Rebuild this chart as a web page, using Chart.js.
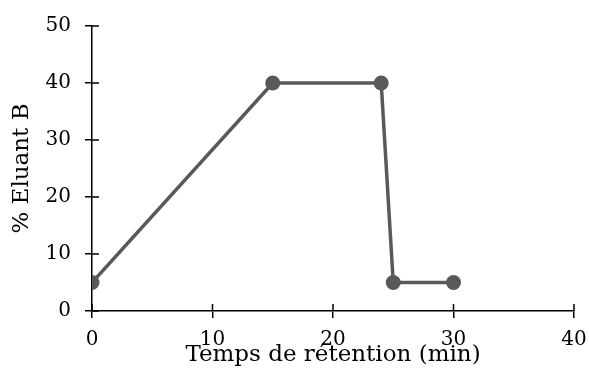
<!DOCTYPE html>
<html><head><meta charset="utf-8">
<script src="https://cdn.jsdelivr.net/npm/chart.js@4/dist/chart.umd.min.js"></script>
<style>html,body{margin:0;padding:0;background:#fff}#wrap{width:589px;height:376px}</style>
</head><body><div id="wrap"><canvas id="c" width="589" height="376"></canvas></div>
<script>
const times = [0, 15, 24, 25, 30];
const eluantB = [5, 40, 40, 5, 5];
const xTicks = [0, 10, 20, 30, 40];
const yTicks = [0, 10, 20, 30, 40, 50];
const xTitle = 'Temps de rétention (min)';
const yTitle = '% Eluant B';

const FONT = 'DejaVu Serif';
const crossTicks = {
  id: 'crossTicks',
  afterDraw(chart) {
    const ctx = chart.ctx, xs = chart.scales.x, ys = chart.scales.y;
    ctx.save(); ctx.strokeStyle = '#000'; ctx.lineWidth = 1.5;
    ctx.beginPath();
    xTicks.forEach(v => { const px = xs.getPixelForValue(v); ctx.moveTo(px, ys.bottom); ctx.lineTo(px, ys.bottom - 7); });
    yTicks.forEach(v => { const py = ys.getPixelForValue(v); ctx.moveTo(xs.left, py); ctx.lineTo(xs.left + 7, py); });
    ctx.stroke(); ctx.restore();
  }
};
new Chart(document.getElementById('c'), {
  type: 'line',
  data: { datasets: [{
    data: times.map((t, i) => ({ x: t, y: eluantB[i] })),
    borderColor: '#595959', backgroundColor: '#595959', borderWidth: 3.5,
    pointRadius: 7.5, pointHoverRadius: 7.5, pointBackgroundColor: '#595959', pointBorderWidth: 0,
    tension: 0
  }]},
  options: {
    responsive: false, animation: false,
    layout: { padding: { top: 26, right: 15, left: 8, bottom: 0 } },
    plugins: { legend: { display: false }, tooltip: { enabled: false } },
    scales: {
      x: { type: 'linear', min: 0, max: 40,
        afterBuildTicks: s => { s.ticks = xTicks.map(v => ({ value: v })); },
        afterFit: s => { s.height = 65; s.paddingLeft = 0; s.paddingRight = 0; },
        ticks: { color: '#000', font: { family: FONT, size: 20 }, padding: 10, maxRotation: 0 },
        grid: { drawOnChartArea: false, drawTicks: true, tickLength: 7, color: '#000', lineWidth: 1.5 },
        border: { color: '#000', width: 1.5 },
        title: { display: true, text: xTitle, color: '#000', font: { family: FONT, size: 23 }, padding: { top: 0, bottom: 7 } }
      },
      y: { min: 0, max: 50,
        afterBuildTicks: s => { s.ticks = yTicks.map(v => ({ value: v })); },
        afterFit: s => { s.width = 84; s.paddingTop = 0; s.paddingBottom = 0; },
        ticks: { color: '#000', font: { family: FONT, size: 20 }, padding: 14 },
        grid: { drawOnChartArea: false, drawTicks: true, tickLength: 7, color: '#000', lineWidth: 1.5 },
        border: { color: '#000', width: 1.5 },
        title: { display: true, text: yTitle, color: '#000', font: { family: FONT, size: 23 }, padding: { top: 0, bottom: 0 } }
      }
    }
  },
  plugins: [crossTicks]
});
</script></body></html>
